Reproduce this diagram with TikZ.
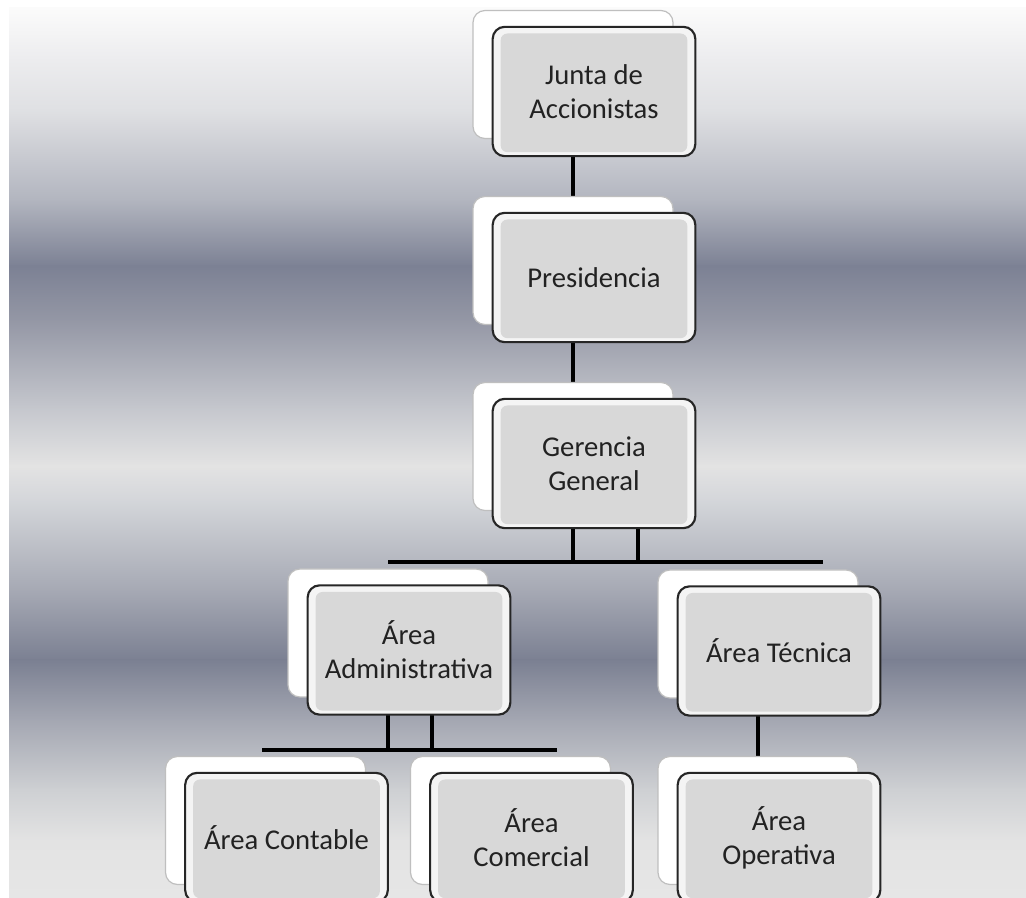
\documentclass[tikz,border=0pt]{standalone}
\usepackage{fontspec}
\setmainfont{Carlito}
\pgfdeclarelayer{backdrop}
\pgfdeclarelayer{wires}
\pgfsetlayers{backdrop,wires,main}
\definecolor{bgA}{HTML}{FBFBFB}
\definecolor{bgB}{HTML}{ECECEE}
\definecolor{bgC}{HTML}{DFE0E3}
\definecolor{bgD}{HTML}{B2B5BF}
\definecolor{bgE}{HTML}{7C8194}
\definecolor{bgF}{HTML}{9497A5}
\definecolor{bgG}{HTML}{C6C8CE}
\definecolor{bgH}{HTML}{E3E3E3}
\definecolor{bgI}{HTML}{D4D6DA}
\definecolor{bgJ}{HTML}{A6A9B4}
\definecolor{bgK}{HTML}{7B8092}
\definecolor{bgL}{HTML}{A4A7B2}
\definecolor{bgM}{HTML}{CED0D3}
\definecolor{bgN}{HTML}{E3E3E3}
\definecolor{bgO}{HTML}{E6E6E6}
\definecolor{facegray}{HTML}{D8D8D8}
\definecolor{bevel}{HTML}{F4F4F4}
\definecolor{inkgray}{HTML}{222222}
\tikzset{
  backbox/.style={rounded corners=9pt, fill=white, draw=gray!50, line width=0.9pt,
    minimum width=150pt, minimum height=96pt, inner sep=0pt},
  frontbox/.style={rounded corners=9pt, draw=black!85, line width=1.6pt, fill=bevel,
    minimum width=152pt, minimum height=97pt, inner sep=0pt, align=center,
    text=inkgray, font=\fontsize{21.5}{25.5}\selectfont,
    path picture={\fill[facegray, rounded corners=5pt]
      ([xshift=6pt,yshift=3pt]path picture bounding box.south west) rectangle
      ([xshift=-6pt,yshift=-5pt]path picture bounding box.north east);}},
  wire/.style={draw=black, line width=2.7pt},
  band/.style={draw=none}
}
\begin{document}
\begin{tikzpicture}[x=0.75pt,y=-0.75pt]
\useasboundingbox (0,0) rectangle (1026,898);
\clip (0,0) rectangle (1026,898);

% backdrop: horizontal metallic stripes
\begin{pgfonlayer}{backdrop}
\fill[white] (0,0) rectangle (1026,898);
\shade[band, top color=bgA, bottom color=bgB] (9,8) rectangle (1026,60.5);
\shade[band, top color=bgB, bottom color=bgC] (9,60) rectangle (1026,110.5);
\shade[band, top color=bgC, bottom color=bgD] (9,110) rectangle (1026,200.5);
\shade[band, top color=bgD, bottom color=bgE] (9,200) rectangle (1026,266.5);
\shade[band, top color=bgE, bottom color=bgF] (9,266) rectangle (1026,320.5);
\shade[band, top color=bgF, bottom color=bgG] (9,320) rectangle (1026,410.5);
\shade[band, top color=bgG, bottom color=bgH] (9,410) rectangle (1026,466.5);
\shade[band, top color=bgH, bottom color=bgI] (9,466) rectangle (1026,500.5);
\shade[band, top color=bgI, bottom color=bgJ] (9,500) rectangle (1026,590.5);
\shade[band, top color=bgJ, bottom color=bgK] (9,590) rectangle (1026,660.5);
\shade[band, top color=bgK, bottom color=bgL] (9,660) rectangle (1026,720.5);
\shade[band, top color=bgL, bottom color=bgM] (9,720) rectangle (1026,790.5);
\shade[band, top color=bgM, bottom color=bgN] (9,790) rectangle (1026,840.5);
\shade[band, top color=bgN, bottom color=bgO] (9,840) rectangle (1026,898);
\end{pgfonlayer}

% level 1
\node[backbox] (junta-b) at (573,74.5) {};
\node[frontbox] (junta) at (594,91.5) {Junta de\\Accionistas};
% level 2
\node[backbox] (pres-b) at (573,260.5) {};
\node[frontbox] (pres) at (594,277.5) {Presidencia};
% level 3
\node[backbox] (ger-b) at (573,446.5) {};
\node[frontbox] (ger) at (594,463.5) {Gerencia\\General};
% level 4
\node[backbox] (adm-b) at (388,633) {};
\node[frontbox] (adm) at (409,650) {Área\\Administrativa};
\node[backbox] (tec-b) at (758,634) {};
\node[frontbox] (tec) at (779,651) {Área Técnica};
% level 5
\node[backbox] (cont-b) at (265.5,820.5) {};
\node[frontbox] (cont) at (286.5,837.5) {Área Contable};
\node[backbox] (com-b) at (510.5,820.5) {};
\node[frontbox] (com) at (531.5,837.5) {Área\\Comercial};
\node[backbox] (oper-b) at (758,820.5) {};
\node[frontbox] (oper) at (779,837.5) {Área\\Operativa};

% bus lines and their extra drops
\coordinate (bus1l) at (388,562);
\coordinate (bus1r) at (823,562);
\coordinate (g2) at (638,500);
\coordinate (bus2l) at (262,750);
\coordinate (bus2r) at (557,750);
\coordinate (a2) at (432,690);

\begin{pgfonlayer}{wires}
\draw[wire] (junta-b.center) -- (pres-b.center);
\draw[wire] (pres-b.center) -- (ger-b.center);
\draw[wire] (ger-b.center) -- (ger-b.center |- bus1l);
\draw[wire] (g2) -- (g2 |- bus1l);
\draw[wire] (bus1l) -- (bus1r);
\draw[wire] (adm-b.center) -- (adm-b.center |- bus2l);
\draw[wire] (a2) -- (a2 |- bus2l);
\draw[wire] (bus2l) -- (bus2r);
\draw[wire] (tec-b.center) -- (oper-b.center);
\end{pgfonlayer}
\end{tikzpicture}
\end{document}
